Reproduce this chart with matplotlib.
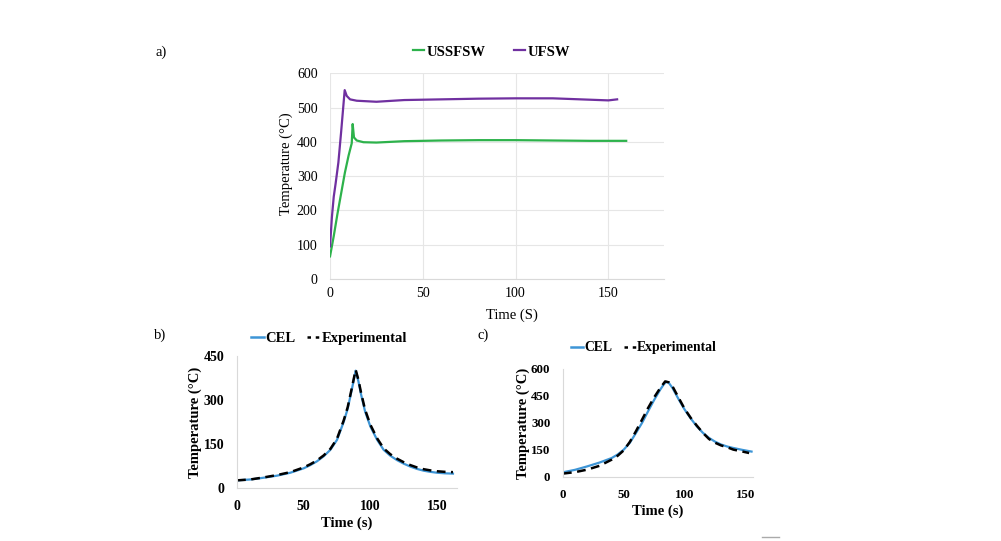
import matplotlib.pyplot as plt
from matplotlib.lines import Line2D

plt.rcParams['font.family'] = ['Liberation Serif', 'DejaVu Serif']

# a) temperature history, USSFSW vs UFSW
t_ussfsw = [0, 2, 4, 6, 8, 10, 11.7, 12.2, 12.9, 14.4, 18, 25, 40, 60, 80, 100, 120, 140, 150, 159.6]
T_ussfsw = [66, 125, 190, 250, 310, 360, 396, 452, 413, 404, 399, 398, 402, 404, 405, 405, 404, 403, 403, 403]
t_ufsw = [0, 1, 2, 3, 4.5, 6, 7.9, 9, 10.8, 14.4, 25, 40, 60, 80, 100, 120, 140, 150, 154.7]
T_ufsw = [95, 180, 240, 278, 340, 430, 551, 534, 524, 520, 517, 522, 524, 526, 527, 527, 523, 521, 524]

# b) CEL vs experimental
t_b = [0, 10, 20, 30, 40, 50, 55, 60, 65, 70, 75, 80, 83, 86, 89, 91, 93, 96, 100, 105,
       110, 115, 120, 125, 130, 135, 140, 145, 150, 156, 162]
cel_b = [26, 29, 35, 42, 52, 67, 78, 91, 108, 130, 164, 225, 270, 333, 400, 365, 320, 262, 210, 165,
         130, 110, 95, 83, 73, 65, 59, 55, 52, 50, 49]
exp_b = [26, 29, 36, 44, 54, 70, 81, 94, 111, 133, 168, 230, 275, 338, 403, 370, 326, 268, 216, 170,
         135, 115, 100, 88, 78, 70, 64, 60, 57, 55, 54]

# c) CEL vs experimental
t_c = [0, 10, 20, 30, 40, 45, 50, 55, 60, 65, 70, 75, 80, 83, 85, 87, 90, 95, 100, 105,
       110, 115, 120, 125, 130, 135, 140, 147, 155]
cel_c = [26, 40, 59, 80, 105, 125, 152, 190, 244, 300, 365, 428, 485, 515, 528, 522, 494, 432, 374, 325,
         281, 245, 217, 196, 180, 169, 161, 151, 141]
t_ce = [0, 10, 20, 30, 40, 45, 50, 55, 60, 65, 70, 75, 80, 84, 87, 90, 95, 100, 105,
        110, 115, 120, 125, 130, 135, 140, 147, 153]
exp_c = [19, 27, 41, 62, 96, 118, 148, 195, 254, 318, 383, 442, 494, 530, 525, 503, 440, 378, 328,
         285, 245, 211, 190, 175, 165, 152, 142, 133]

fig = plt.figure(figsize=(10.01, 5.41), dpi=100)
grid_c = '#e6e6e6'

# ---- a ----
ax = fig.add_axes([0.3297, 0.4843, 0.3337, 0.3802])
ax.plot(t_ussfsw, T_ussfsw, color='#2db24b', lw=1.6, label='USSFSW')
ax.plot(t_ufsw, T_ufsw, color='#7030a0', lw=1.6, label='UFSW')
ax.set_xlim(0, 180)
ax.set_ylim(0, 600)
ax.set_xticks([0, 50, 100, 150])
ax.set_yticks(range(0, 601, 100))
ax.grid(True, color=grid_c, lw=0.8)
for s in ['top', 'right', 'left']:
    ax.spines[s].set_visible(False)
ax.spines['bottom'].set_color('#d9d9d9')
ax.tick_params(length=0, labelsize=10)
ax.tick_params(axis='y', pad=9)
ax.tick_params(axis='x', pad=6)
ax.set_xlabel('Time (S)', fontsize=10.5)
ax.set_ylabel('Temperature (°C)', fontsize=10.5)
ax.xaxis.set_label_coords(0.545, -0.145)
ax.yaxis.set_label_coords(-0.112, 0.56)
fig.legend(handles=ax.get_lines(), loc='center', bbox_to_anchor=(0.491, 0.904), ncol=2,
           frameon=False, handlelength=0.75, handletextpad=0.15, columnspacing=2.0,
           prop={'weight': 'bold', 'size': 10.5})
fig.text(0.161, 0.904, 'a)', fontsize=10.5, ha='center', va='center')


def small_panel(rect, t1, y1, t2, y2, xmax, ymax, yticks, label, lab_xy, leg_xy, fs):
    a = fig.add_axes(rect)
    a.plot(t1, y1, color='#3d95d6', lw=1.6)
    a.plot(t2, y2, color='black', lw=1.8, ls=(0, (3.5, 2.2)))
    a.set_xlim(0, xmax)
    a.set_ylim(0, ymax)
    a.set_xticks([0, 50, 100, 150])
    a.set_yticks(yticks)
    for s in ['top', 'right']:
        a.spines[s].set_visible(False)
    for s in ['left', 'bottom']:
        a.spines[s].set_color('#d9d9d9')
    a.tick_params(length=0, labelsize=fs, pad=9)
    for tl in a.get_xticklabels() + a.get_yticklabels():
        tl.set_fontweight('bold')
    a.set_xlabel('Time (s)', fontsize=10.5, fontweight='bold', labelpad=2)
    a.set_ylabel('Temperature (°C)', fontsize=10.5, fontweight='bold', labelpad=1)
    handles = [Line2D([], [], color='#3d95d6', lw=1.8),
               Line2D([], [], color='black', lw=1.8, ls=(0, (1.4, 1.9)))]
    fig.legend(handles, ['CEL', 'Experimental'], loc='center', bbox_to_anchor=leg_xy, ncol=2,
               frameon=False, handlelength=0.9, handletextpad=0.1, columnspacing=0.8,
               prop={'weight': 'bold', 'size': fs + 0.5})
    fig.text(lab_xy[0], lab_xy[1], label, fontsize=10.5, ha='center', va='center')
    return a


small_panel([0.2368, 0.098, 0.2197, 0.244], t_b, cel_b, t_b, exp_b, 165, 450,
            [0, 150, 300, 450], 'b)', (0.160, 0.381), (0.3285, 0.375), 10)
small_panel([0.5624, 0.1183, 0.1896, 0.2], t_c, cel_c, t_ce, exp_c, 156, 600,
            [0, 150, 300, 450, 600], 'c)', (0.483, 0.381), (0.6435, 0.357), 9.3)

fig.add_artist(Line2D([762 / 1001, 779 / 1001], [1 - 537 / 541, 1 - 537 / 541],
                      color='#aaaaaa', lw=1))

fig.savefig('out.png', dpi=100)
